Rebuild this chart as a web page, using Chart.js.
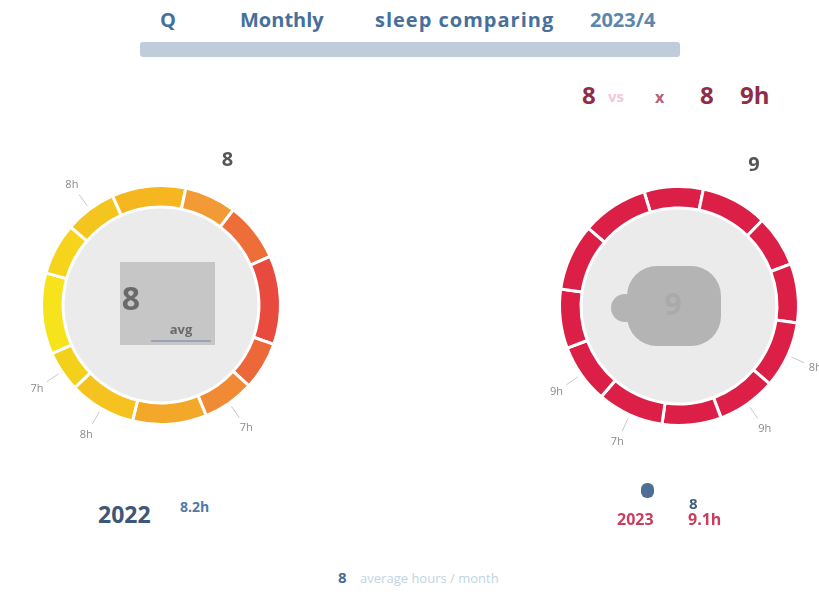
<!DOCTYPE html>
<html><head><meta charset="utf-8">
<script src="https://cdn.jsdelivr.net/npm/chart.js@4/dist/chart.umd.min.js"></script>
<style>
html,body{margin:0;padding:0;background:#fff;width:819px;height:602px;overflow:hidden;font-family:"Open Sans","DejaVu Sans",sans-serif;}
.t{position:absolute;top:6px;font-size:20px;font-weight:700;color:#46709b;white-space:nowrap;}
#bar{position:absolute;left:140px;width:540px;top:42px;height:15px;background:#bfcddb;border-radius:3px;}
.r{position:absolute;top:78px;font-size:24px;font-weight:700;color:#8e2d4a;white-space:nowrap;}
.cv{position:absolute;}
#capL{position:absolute;left:98px;top:498px;font-size:23px;font-weight:700;color:#3e5777;}
#capL2{position:absolute;left:180px;top:497px;font-size:14px;font-weight:700;color:#4f7aa6;}
#dotR{position:absolute;left:641px;top:483px;width:13px;height:15px;border-radius:6px;background:#4d6f96;}
.cr{position:absolute;top:508px;font-size:16px;font-weight:700;color:#cc3d5d;}
#capRb{position:absolute;left:689px;top:493px;font-size:15px;font-weight:700;color:#3e5d82;}
#foot{position:absolute;left:338px;top:567px;font-size:13px;color:#c3d4e3;white-space:nowrap;}
#foot b{color:#4a6b93;font-size:15px;}
</style></head>
<body>
<div class="t" style="left:160px">Q</div>
<div class="t" style="left:240px">Monthly</div>
<div class="t" style="left:375px;letter-spacing:1px">sleep comparing</div>
<div class="t" style="left:590px;color:#5d86ad">2023/4</div>
<div id="bar"></div>
<div class="r" style="left:582px">8</div>
<div class="r" style="left:608px;font-size:15px;top:86px;color:#f1c9d4">vs</div>
<div class="r" style="left:655px;font-size:16px;top:86px;color:#b7607c">x</div>
<div class="r" style="left:700px">8</div>
<div class="r" style="left:740px">9h</div>
<canvas id="c1" class="cv" width="320" height="360" style="left:1px;top:125px;width:320px;height:360px"></canvas>
<canvas id="c2" class="cv" width="280" height="360" style="left:539px;top:126px;width:280px;height:360px"></canvas>
<div id="capL">2022</div>
<div id="capL2">8.2h</div>
<div id="dotR"></div>
<div class="cr" style="left:617px">2023</div>
<div class="cr" style="left:688px">9.1h</div>
<div id="capRb">8</div>
<div id="foot"><b>8</b> &nbsp;&nbsp;&nbsp;average hours / month</div>
<script>
const months = ["Jan","Feb","Mar","Apr","May","Jun","Jul","Aug","Sep","Oct","Nov","Dec"];
const valuesLeft  = [10, 7, 8, 12, 6.5, 7, 10, 9, 5.5, 11, 7, 7];
const valuesRight = [8, 9, 7, 8, 9, 8, 8, 9, 8, 8, 9, 9];
const colorsLeft  = ["#f5b61f","#f29a35","#ee6e3a","#e84a3d","#ec6838","#f08a35","#f4a82a","#f5c21f","#f3d11a","#f7e31b","#f5d41b","#f4c41f"];
const colorRight  = "#dc1f47";
const labelsLeft  = ["","8","","","","7h","","8h","7h","","","8h"];
const labelsRight = ["","9","","","8h","9h","","7h","9h","","",""];
const centerLeft  = ["8", "avg"];
const centerRight = ["9"];

const ringPlugin = {
  id: 'ring',
  beforeDatasetsDraw(chart) {
    const a = chart.getDatasetMeta(0).data[0];
    const ctx = chart.ctx;
    ctx.save();
    ctx.beginPath();
    ctx.arc(a.x, a.y, a.innerRadius, 0, Math.PI*2);
    ctx.fillStyle = '#ebebeb';
    ctx.fill();
    ctx.restore();
  },
  afterDatasetsDraw(chart, args, opts) {
    const meta = chart.getDatasetMeta(0);
    const ctx = chart.ctx;
    const labs = opts.labels || [];
    ctx.save();
    ctx.textAlign = 'center';
    ctx.textBaseline = 'middle';
    ctx.strokeStyle = '#c8c8c8';
    meta.data.forEach((arc, i) => {
      if (!labs[i]) return;
      const mid = (arc.startAngle + arc.endAngle) / 2;
      const big = !labs[i].endsWith('h');
      const r1 = arc.outerRadius + 4, r2 = arc.outerRadius + 18;
      if (!big) {
        ctx.beginPath();
        ctx.moveTo(arc.x + Math.cos(mid)*r1, arc.y + Math.sin(mid)*r1);
        ctx.lineTo(arc.x + Math.cos(mid)*r2, arc.y + Math.sin(mid)*r2);
        ctx.stroke();
      }
      ctx.font = big ? 'bold 20px "Open Sans", sans-serif' : '11px "Open Sans", sans-serif';
      ctx.fillStyle = big ? '#555' : '#8a8a8a';
      const rr = big ? arc.outerRadius + 40 : r2 + 12;
      ctx.fillText(labs[i], arc.x + Math.cos(mid)*rr, arc.y + Math.sin(mid)*rr);
    });
    const a0 = meta.data[0];
    const c = opts.center || [];
    if (opts.boxed) {
      ctx.fillStyle = '#c6c6c6';
      ctx.fillRect(a0.x - 41, a0.y - 43, 95, 83);
      ctx.fillStyle = '#6a6a6a';
      ctx.font = 'bold 32px "Open Sans", sans-serif';
      if (c[0]) ctx.fillText(c[0], a0.x - 30, a0.y - 4);
      ctx.font = 'bold 13px "Open Sans", sans-serif';
      if (c[1]) ctx.fillText(c[1], a0.x + 20, a0.y + 25);
      ctx.fillStyle = '#9aa3b8';
      ctx.fillRect(a0.x - 10, a0.y + 35, 60, 2);
    } else {
      ctx.fillStyle = '#b4b4b4';
      ctx.beginPath();
      ctx.roundRect(a0.x - 52, a0.y - 40, 94, 80, 30);
      ctx.fill();
      ctx.beginPath();
      ctx.arc(a0.x - 54, a0.y + 2, 14, 0, Math.PI*2);
      ctx.fill();
      ctx.fillStyle = '#aaaaaa';
      ctx.font = 'bold 30px "Open Sans", sans-serif';
      if (c[0]) ctx.fillText(c[0], a0.x - 6, a0.y);
    }
    ctx.restore();
  }
};

function makeChart(id, values, colors, labs, center, boxed, rot, pad) {
  return new Chart(document.getElementById(id), {
    type: 'doughnut',
    data: { labels: months, datasets: [{ data: values, backgroundColor: colors, borderColor: '#fff', borderWidth: 3 }] },
    options: {
      responsive: false, animation: false, cutout: '82%', rotation: rot,
      layout: { padding: pad },
      plugins: { legend: { display: false }, tooltip: { enabled: false }, ring: { labels: labs, center: center, boxed: boxed } }
    },
    plugins: [ringPlugin]
  });
}
makeChart('c1', valuesLeft, colorsLeft, labelsLeft, centerLeft, true, -24, {left:39, right:39, top:59, bottom:59});
makeChart('c2', valuesRight, colorRight, labelsRight, centerRight, false, -17, {left:19, right:19, top:59, bottom:59});
</script>
</body></html>
